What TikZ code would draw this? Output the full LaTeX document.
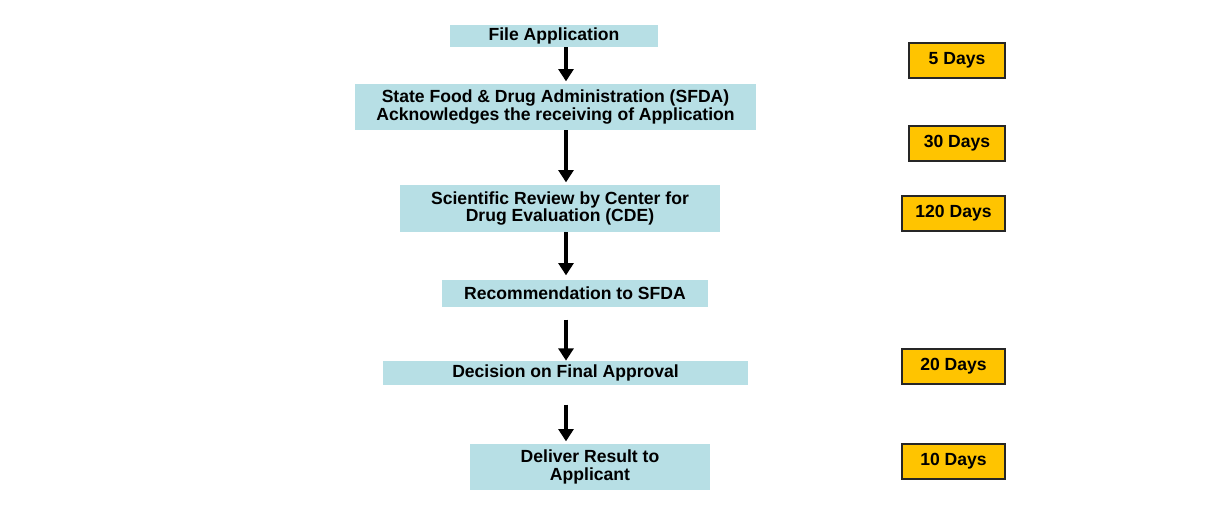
\documentclass[tikz,border=0pt]{standalone}
\usepackage{fontspec}
\setmainfont{Liberation Sans}
\usetikzlibrary{positioning, calc, arrows.meta}
\definecolor{stepblue}{RGB}{183,223,229}
\definecolor{dayyellow}{RGB}{255,196,0}
\tikzset{
	stepbox/.style={fill=stepblue, inner sep=0pt, align=center,
		font=\fontsize{10}{10.2}\selectfont\bfseries},
	daybox/.style={fill=dayyellow, draw=black!85, line width=0.9pt, inner sep=0pt,
		minimum height=0.7cm, font=\fontsize{10}{11}\selectfont\bfseries},
	flowarrow/.style={line width=2pt, -{Triangle[length=7pt, width=8.5pt]}}
}

\begin{document}
\begin{tikzpicture}[x=0.02cm, y=-0.02cm]
      \useasboundingbox[fill=white] (0,0) rectangle (1228,518);
      % process steps
      \node[stepbox, minimum width=4.16cm, minimum height=0.44cm] (file) at (554,36) {File Application};
      \node[stepbox, minimum width=8.02cm, minimum height=0.92cm] (sfda) at (555.5,107)
        {State Food \& Drug Administration (SFDA)\\Acknowledges the receiving of Application};
      \node[stepbox, minimum width=6.4cm, minimum height=0.94cm] (review) at (560,208.5)
        {Scientific Review by Center for\\Drug Evaluation (CDE)};
      \node[stepbox, minimum width=5.32cm, minimum height=0.54cm] (recom) at (575,293.5) {Recommendation to SFDA};
      \node[stepbox, minimum width=7.3cm, minimum height=0.48cm] (decision) at (565.5,373) {Decision on Final Approval};
      \node[stepbox, minimum width=4.8cm, minimum height=0.92cm] (deliver) at (590,467)
        {Deliver Result to\\Applicant};
      % arrows
      \coordinate (ax) at (566,0);
      \draw[flowarrow] (file.south -| ax) -- ++(0,34);
      \draw[flowarrow] (sfda.south -| ax) -- ++(0,52);
      \draw[flowarrow] (review.south -| ax) -- ++(0,43);
      \draw[flowarrow, shorten <=7pt] (recom.south -| ax) -- (decision.north -| ax);
      \draw[flowarrow, shorten <=11pt] (decision.south -| ax) -- ++(0,56);
      % durations
      \foreach \n/\x/\y/\w/\l in {d5/957/60.5/96/5 Days, d30/957/143.5/96/30 Days,
          d120/953.5/213.5/103/120 Days, d20/953.5/366.5/103/20 Days, d10/953.5/461.5/103/10 Days}
        \node[daybox, minimum width=\w*0.02cm] (\n) at (\x,\y) {\l};
    \end{tikzpicture}
\end{document}
